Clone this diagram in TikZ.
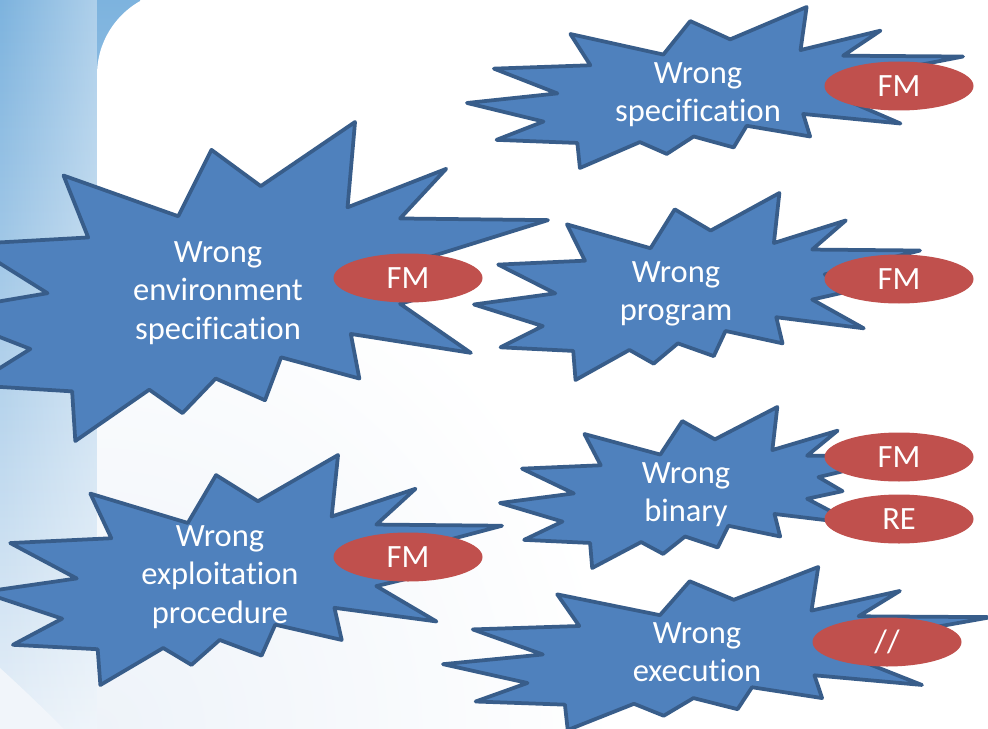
\documentclass[tikz,border=0pt]{standalone}
\usepackage{fontspec}
\setmainfont{Carlito}[Ligatures=NoCommon]
\usetikzlibrary{shapes.geometric,fadings}

\definecolor{boomfill}{HTML}{4F81BD}
\definecolor{boomline}{HTML}{385D8A}
\definecolor{tagfill}{HTML}{C0504D}
\definecolor{panelTop}{HTML}{7DB3DE}
\definecolor{panelBot}{HTML}{E6EFF8}
\definecolor{glow}{HTML}{EEF3F9}
\definecolor{corner}{HTML}{F1F5FA}

% white veil that grows stronger towards the right
\tikzfading[name=towardsright, left color=transparent!100, right color=transparent!0]

% "explosion" outline in a 216 x 216 box: #1 = left, #2 = top, #3 = width, #4 = height
\newcommand\explosion[4]{%
  \draw[boom, shift={(#1,#2)}, xscale=#3/216, yscale=#4/216]
    (114.62,43.42) -- (147.90,0) -- (145.25,57.77) -- (180.07,31.72) --
    (163.80,65.32) -- (216,66.45) -- (169.85,94.02) -- (182.70,112.90) --
    (163.80,123.10) -- (188.77,156.32) -- (146.40,143.50) -- (149.42,173.70) --
    (121.80,159.35) -- (116.12,188.42) -- (98.72,173.70) -- (87.00,197.12) --
    (75.27,181.25) -- (49.17,216) -- (48.05,182.40) -- (12.85,178.25) --
    (33.30,153.70) -- (0,128.77) -- (39.35,115.92) -- (11.72,82.70) --
    (53.72,78.17) -- (45.02,36.25) -- (85.50,63.82) -- (97.22,18.87) -- cycle;}

\begin{document}
\begin{tikzpicture}[x=1bp, y=-1bp,
  boom/.style={fill=boomfill, draw=boomline, line width=3.75bp, line join=round},
  boomtext/.style={text=white, align=center, inner sep=0pt, anchor=north,
    font=\fontsize{32.5bp}{38.5bp}\selectfont},
  tag/.style={ellipse, fill=tagfill, text=white, inner sep=0pt,
    minimum width=149bp, minimum height=49bp,
    font=\fontsize{32.5bp}{38.5bp}\selectfont}]
\useasboundingbox (0,0) rectangle (988,729);
\clip (0,0) rectangle (988,729);

% background: blue side panel, white sheet with a pale glow at its lower left
\fill[white] (0,0) rectangle (988,729);
\shade[top color=panelTop, bottom color=panelBot] (0,0) rectangle (140,729);
\fill[white, fill opacity=0.38, path fading=towardsright] (0,0) rectangle (97,729);
\fill[white, rounded corners=85bp] (97,900) -- (97,-10) -- (1100,-10) -- (1100,900) -- cycle;
\begin{scope}
  \clip (97,0) rectangle (988,729);
  \shade[inner color=glow, outer color=white] (97,729) circle (520);
\end{scope}
\fill[corner] (0,668) .. controls (20,686) and (45,710) .. (66,731) -- (0,731) -- cycle;

% environment
\explosion{-64}{122}{612}{319}
\node[boomtext] (envText) at (218,241) {Wrong\\environment\\specification};
\node[tag] (envFM) at (408,278) {FM};

% exploitation procedure
\explosion{-18}{455}{520}{230}
\node[boomtext] (expText) at (220,525) {Wrong\\exploitation\\procedure};
\node[tag] (expFM) at (408,557) {FM};

% specification
\explosion{467}{7}{496}{161}
\node[boomtext] (specText) at (698,62) {Wrong\\specification};
\node[tag] (specFM) at (899,86) {FM};

% program
\explosion{474}{193}{446}{187}
\node[boomtext] (progText) at (676,261) {Wrong\\program};
\node[tag] (progFM) at (899,279) {FM};

% binary
\explosion{500}{407}{405}{161}
\node[boomtext] (binText) at (686,462) {Wrong\\binary};
\node[tag] (binFM) at (899,457) {FM};
\node[tag] (binRE) at (899,519) {RE};

% execution
\explosion{443}{567}{548}{163}
\node[boomtext] (execText) at (697,622) {Wrong\\execution};
\node[tag] (execPar) at (887,642) {//};
\end{tikzpicture}
\end{document}
